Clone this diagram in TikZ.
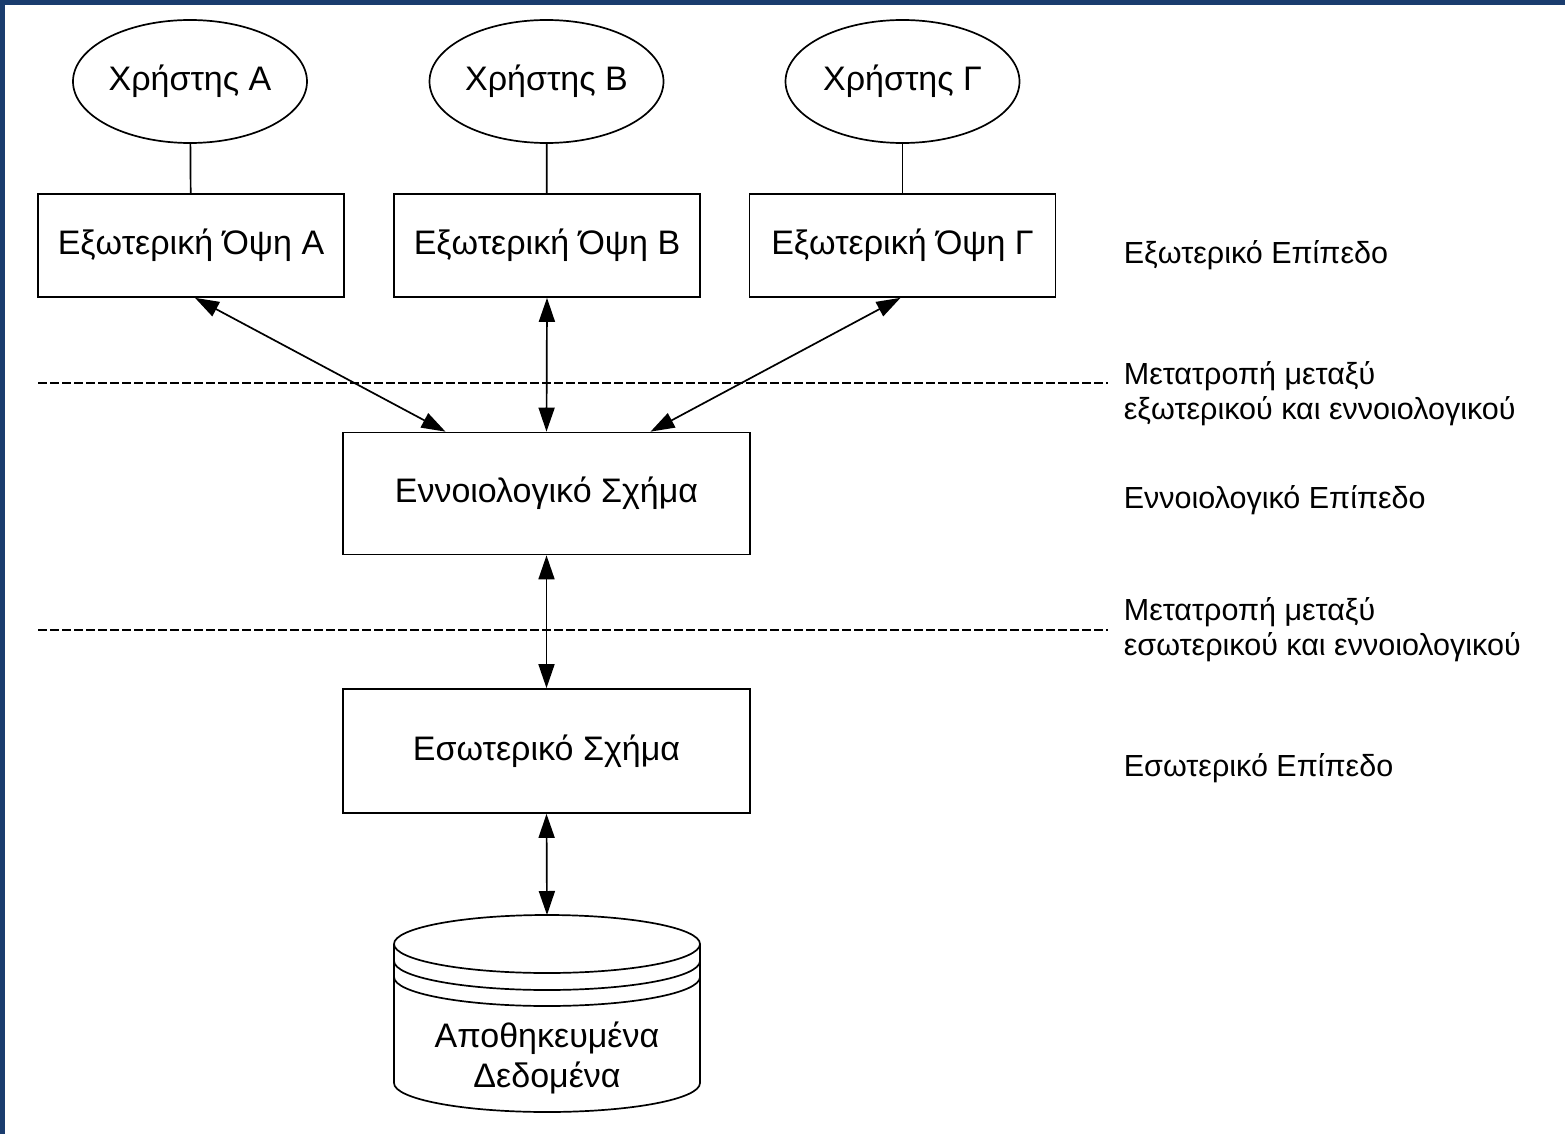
\documentclass[tikz,border=0pt]{standalone}
\usepackage{fontspec}
\setmainfont{Liberation Sans}
\usetikzlibrary{arrows.meta,shapes.geometric}
\definecolor{frameblue}{RGB}{26,60,110}
\begin{document}
\begin{tikzpicture}[x=1pt,y=-1pt,
  font=\fontsize{34}{40}\selectfont,
  line width=1.7pt,
  user/.style={draw, ellipse, minimum width=234pt, minimum height=123pt, inner sep=0pt},
  viewbox/.style={draw, rectangle, minimum width=306pt, minimum height=103pt, inner sep=0pt},
  schemabox/.style={draw, rectangle, minimum width=407pt, minimum height=122pt, inner sep=0pt},
  lbl/.style={anchor=west, align=left, inner sep=0pt, font=\fontsize{30.5}{35}\selectfont},
  arr/.style={{Triangle[length=24pt,width=16pt]}-{Triangle[length=24pt,width=16pt]}},
  dline/.style={line width=1.2pt, dash pattern=on 9pt off 3pt}
]
\useasboundingbox (0,0) rectangle (1565,1134);
\fill[frameblue] (0,0) rectangle (1565,1134);
\fill[white] (5,5) rectangle (1565,1134);

% users
\node[user] (uA) at (190,81.5) {Χρήστης Α};
\node[user] (uB) at (546.5,81.5) {Χρήστης Β};
\node[user] (uG) at (902.5,81.5) {Χρήστης Γ};

% external views
\node[viewbox] (eA) at (191,245.5) {Εξωτερική Όψη Α};
\node[viewbox] (eB) at (547,245.5) {Εξωτερική Όψη Β};
\node[viewbox] (eG) at (902.5,245.5) {Εξωτερική Όψη Γ};

\draw (uA) -- (eA);
\draw (uB) -- (eB);
\draw (uG) -- (eG);

% schemas
\node[schemabox] (con) at (546.5,493.5) {Εννοιολογικό Σχήμα};
\node[schemabox, minimum height=124pt] (int) at (546.5,751) {Εσωτερικό Σχήμα};

% dashed separators
\coordinate (d1a) at (38,383);
\coordinate (d1b) at (1108,383);
\coordinate (d2a) at (38,630);
\coordinate (d2b) at (1108,630);
\draw[dline] (d1a) -- (d1b);
\draw[dline] (d2a) -- (d2b);

% cylinder
\coordinate (dbtop) at (547,915);
\draw (547,944) ellipse[x radius=153, y radius=29];
\draw (394,961) arc[start angle=180, end angle=0, x radius=153, y radius=29];
\draw (394,977) arc[start angle=180, end angle=0, x radius=153, y radius=29];
\draw (394,944) -- (394,1083) arc[start angle=180, end angle=0, x radius=153, y radius=29] -- (700,944);
\node[align=center, font=\fontsize{34}{40}\selectfont] (db) at (547,1058) {Αποθηκευμένα\\Δεδομένα};

% arrows
\draw[arr] ([xshift=4pt]eA.south) -- ([xshift=-101pt]con.north);
\draw[arr] (eB.south) -- (con.north);
\draw[arr] ([xshift=-2pt]eG.south) -- ([xshift=104pt]con.north);
\draw[arr] (con.south) -- (int.north);
\draw[arr] (int.south) -- (dbtop);

% right-hand labels
\node[lbl] (l1) at (1123,255) {Εξωτερικό Επίπεδο};
\node[lbl] (l2) at (1123,394) {Μετατροπή μεταξύ\\εξωτερικού και εννοιολογικού};
\node[lbl] (l3) at (1123,500) {Εννοιολογικό Επίπεδο};
\node[lbl] (l4) at (1123,630) {Μετατροπή μεταξύ\\εσωτερικού και εννοιολογικού};
\node[lbl] (l5) at (1123,768) {Εσωτερικό Επίπεδο};
\end{tikzpicture}
\end{document}
